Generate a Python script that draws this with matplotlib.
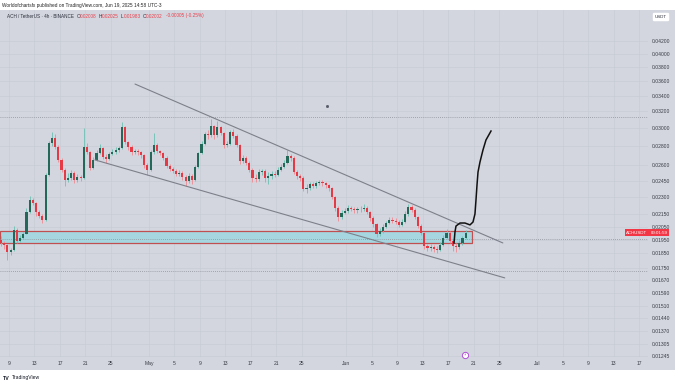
import matplotlib

matplotlib.use("Agg")

import matplotlib.pyplot as plt
import matplotlib.dates as mdates
import matplotlib.transforms as mtransforms
from matplotlib.patches import Rectangle
from matplotlib.ticker import NullLocator
from datetime import datetime

# ---- data (12h candles) ----
first_open = 0.01950
closes = [
    .01926, .01911, .01861, .01875, .02025, .01941, .01964, .01995, .02171, .02274,
    .02247, .02171, .02138, .02105, .02504, .02833, .02888, .02790, .02653, .02553,
    .02456, .02475, .02524, .02456, .02485, .02475, .02790, .02737, .02573, .02653,
    .02726, .02779, .02684, .02663, .02716, .02737, .02758, .02779, .03014, .02844,
    .02790, .02737, .02745, .02737, .02705, .02603, .02553, .02737, .02811, .02747,
    .02726, .02674, .02593, .02563, .02543, .02514, .02524, .02485, .02447, .02495,
    .02456, .02583, .02726, .02822, .02933, .02922, .03025, .02922, .03014, .02945,
    .02811, .02822, .02956, .02911, .02811, .02643, .02674, .02623, .02553, .02475,
    .02470, .02533, .02540, .02475, .02495, .02514, .02504, .02553, .02583, .02623,
    .02695, .02674, .02533, .02495, .02475, .02372, .02381, .02418, .02400, .02428,
    .02437, .02428, .02409, .02381, .02300, .02205, .02130, .02163, .02180, .02205,
    .02196, .02188, .02192, .02196, .02205, .02171, .02121, .02073, .01995, .02017,
    .02049, .02081, .02105, .02100, .02089, .02065, .02089, .02154, .02213, .02188,
    .02130, .02057, .02002, .01904, .01889, .01897, .01882, .01876, .01911, .01964,
    .02002, .01941, .01904, .01898, .01926, .01964, .02002,
]
highs = [
    .01975, .01940, .01920, .01890, .02060, .02040, .01985, .02010, .02200, .02310,
    .02295, .02260, .02190, .02150, .02520, .02860, .02960, .02930, .02810, .02670,
    .02570, .02520, .02550, .02540, .02510, .02500, .03000, .02830, .02750, .02680,
    .02760, .02820, .02790, .02720, .02740, .02770, .02790, .02800, .03070, .03030,
    .02860, .02810, .02770, .02770, .02750, .02720, .02620, .02760, .02950, .02830,
    .02760, .02740, .02690, .02610, .02580, .02560, .02550, .02540, .02500, .02520,
    .02510, .02600, .02740, .02850, .02960, .02980, .03110, .03040, .03080, .03030,
    .02960, .02850, .02980, .02990, .02930, .02820, .02700, .02690, .02640, .02570,
    .02510, .02560, .02560, .02560, .02530, .02540, .02540, .02580, .02610, .02650,
    .02760, .02720, .02690, .02550, .02510, .02490, .02420, .02440, .02440, .02450,
    .02460, .02455, .02440, .02420, .02390, .02310, .02220, .02190, .02200, .02230,
    .02225, .02215, .02215, .02220, .02235, .02220, .02180, .02135, .02080, .02040,
    .02070, .02100, .02130, .02130, .02120, .02105, .02110, .02175, .02240, .02230,
    .02200, .02140, .02070, .02010, .01920, .01915, .01910, .01900, .01930, .01985,
    .02035, .02015, .01955, .01925, .01945, .01980, .02025,
]
lows = [
    .01905, .01880, .01804, .01840, .01870, .01925, .01930, .01955, .01990, .02160,
    .02230, .02140, .02120, .02080, .02100, .02495, .02800, .02770, .02630, .02530,
    .02400, .02440, .02460, .02430, .02440, .02445, .02465, .02710, .02550, .02560,
    .02640, .02710, .02660, .02620, .02650, .02700, .02720, .02740, .02770, .02820,
    .02760, .02700, .02710, .02700, .02670, .02570, .02500, .02540, .02720, .02730,
    .02700, .02650, .02570, .02540, .02520, .02490, .02490, .02460, .02400, .02430,
    .02420, .02450, .02575, .02710, .02810, .02880, .02900, .02880, .02900, .02920,
    .02780, .02790, .02810, .02890, .02790, .02610, .02620, .02600, .02530, .02440,
    .02440, .02450, .02500, .02440, .02420, .02470, .02480, .02490, .02540, .02570,
    .02610, .02640, .02510, .02470, .02450, .02350, .02340, .02365, .02380, .02385,
    .02410, .02400, .02385, .02355, .02280, .02180, .02100, .02115, .02150, .02165,
    .02175, .02165, .02165, .02170, .02180, .02150, .02100, .02050, .01970, .01980,
    .02005, .02040, .02070, .02080, .02070, .02045, .02055, .02080, .02140, .02170,
    .02110, .02040, .01985, .01880, .01865, .01870, .01860, .01850, .01865, .01900,
    .01955, .01925, .01865, .01860, .01880, .01910, .01955,
]
first_day = -1.25      # days after Apr 9 of the first candle
candle_step = 0.5      # 12h

# drawings (days after Apr 9, price)
upper_line = [(19.8, 0.03557), (77.6, 0.01926)]
lower_line = [(13.5, 0.02654), (77.9, 0.01683)]
zone_low, zone_high, zone_end = 0.01926, 0.02017, 72.75
path_days = [69.93, 70.08, 70.24, 70.87, 71.65, 72.44, 72.91, 73.22, 73.38, 73.54,
             73.70, 74.01, 74.48, 74.95, 75.74]
path_prices = [0.01926, 0.02010, 0.02056, 0.02080, 0.02080, 0.02065, 0.02088, 0.02154,
               0.02273, 0.02409, 0.02533, 0.02633, 0.02758, 0.02866, 0.02967]
dotted_levels = [0.03132, 0.01956, 0.01729]
last_price = 0.02002

price_ticks = [0.04200, 0.04000, 0.03800, 0.03600, 0.03400, 0.03200, 0.03000, 0.02800,
               0.02600, 0.02450, 0.02300, 0.02150, 0.02050, 0.01950, 0.01850, 0.01750,
               0.01670, 0.01590, 0.01510, 0.01440, 0.01370, 0.01305, 0.01245]
date_ticks = [(4, 9), (4, 13), (4, 17), (4, 21), (4, 25), (5, 1), (5, 5), (5, 9), (5, 13),
              (5, 17), (5, 21), (5, 25), (6, 1), (6, 5), (6, 9), (6, 13), (6, 17), (6, 21),
              (6, 25), (7, 1), (7, 5), (7, 9), (7, 13), (7, 17)]
month_names = {5: "May", 6: "Jun", 7: "Jul"}

# ---- style ----
BG = "#d3d6de"
GRID = "#c8ccd5"
UP, UP_W = "#22695a", "#6cc1b2"
DN, DN_W = "#e53945", "#f08a93"
FONT = "Liberation Sans"

W, H = 679, 385
fig = plt.figure(figsize=(W / 100, H / 100), dpi=100)
fig.patch.set_facecolor("white")


def fx(px):
    return px / W


def fy(py):
    return 1 - py / H


fig.patches.append(Rectangle((0, fy(370)), fx(675), fy(10) - fy(370),
                             transform=fig.transFigure, facecolor=BG,
                             edgecolor="none", zorder=-5))

ax = fig.add_axes([0, fy(357), fx(648), fy(10) - fy(357)])
ax.set_zorder(1)
ax.set_facecolor(BG)
for s in ax.spines.values():
    s.set_visible(False)

base = mdates.date2num(datetime(2025, 4, 9))


def dnum(d):
    return base + d


ax.set_yscale("log")
ax.set_ylim(0.01240, 0.04734)
ax.set_xlim(dnum(-1.414), dnum(100.41))

# candles
opens = [first_open] + closes[:-1]
for i, (o, h, l, c) in enumerate(zip(opens, highs, lows, closes)):
    x = dnum(first_day + candle_step * i)
    up = c >= o
    ax.vlines(x, l, h, color=UP_W if up else DN_W, lw=0.6, zorder=3)
    lo, hi = min(o, c), max(o, c)
    if hi - lo < 0.00004:
        hi = lo + 0.00004
    ax.bar(x, hi - lo, bottom=lo, width=0.34, color=UP if up else DN,
           linewidth=0, zorder=4)

# zone
ax.add_patch(Rectangle((dnum(-1.414), zone_low), dnum(zone_end) - dnum(-1.414),
                       zone_high - zone_low, facecolor="#a6d7e0",
                       edgecolor="#bf4f50", lw=0.9, zorder=2))

# dotted levels
for lv in dotted_levels:
    ax.axhline(lv, color="#8f929b", lw=0.6, ls=(0, (1, 1.5)), zorder=2.5)

# trend lines
for ln in (upper_line, lower_line):
    ax.plot([dnum(p[0]) for p in ln], [p[1] for p in ln], color="#7d808a",
            lw=0.8, zorder=5, solid_capstyle="round")

# hand-drawn projection
ax.plot([dnum(d) for d in path_days], path_prices, color="#111111", lw=1.1,
        zorder=6, solid_joinstyle="round")

# small dot
ax.plot([dnum(49.97)], [0.03268], "s", ms=1.0, color="#555a66", zorder=5)

# axes ticks
ax.yaxis.tick_right()
ax.yaxis.set_minor_locator(NullLocator())
ax.set_yticks(price_ticks)
ax.set_yticklabels(["%.5f" % p for p in price_ticks], fontfamily=FONT)
ax.tick_params(axis="y", length=0, pad=3, labelsize=3.6, labelcolor="#3a3d45")

xt = [mdates.date2num(datetime(2025, m, d)) for m, d in date_ticks]
xl = [month_names[m] if d == 1 else str(d) for m, d in date_ticks]
ax.set_xticks(xt)
ax.set_xticklabels(xl, fontfamily=FONT)
ax.tick_params(axis="x", length=0, pad=3.2, labelsize=3.6, labelcolor="#3a3d45")
ax.grid(True, color=GRID, lw=0.5)
ax.set_axisbelow(True)

# price labels on the right edge
ty = mtransforms.blended_transform_factory(ax.transAxes, ax.transData)
ax.text(0.999, last_price, "ACHUSDT", transform=ty, ha="right", va="center",
        fontsize=3.2, color="white", fontfamily=FONT, clip_on=False, zorder=10,
        bbox=dict(boxstyle="square,pad=0.35", fc="#f23645", ec="none"))
ax.text(1.004, last_price, "00:01:59", transform=ty, ha="left", va="center",
        fontsize=3.2, color="white", fontfamily=FONT, clip_on=False, zorder=10,
        bbox=dict(boxstyle="square,pad=0.35", fc="#f23645", ec="none"))

# event icon
tb = mtransforms.blended_transform_factory(ax.transData, fig.transFigure)
ax.plot([dnum(71.65)], [fy(355)], "o", ms=4.5, mfc="white", mec="#b04fd6",
        mew=0.7, transform=tb, clip_on=False, zorder=10)
ax.text(dnum(71.65), fy(355), "⚡", transform=tb, ha="center", va="center",
        fontsize=2.6, color="#b04fd6", clip_on=False, zorder=11)

# header texts
fig.text(fx(2), fy(5), "Worldofchartsfx published on TradingView.com, Jun 19, 2025 14:58 UTC-3",
         fontsize=3.4, color="#222222", va="center", fontfamily=FONT)
fig.text(fx(7), fy(16), "ACH / TetherUS · 4h · BINANCE", fontsize=3.3,
         color="#2a2e39", va="center", fontfamily=FONT)
red = "#e8404e"
for lbl, val, px in [("O", "0.02008", 77), ("H", "0.02025", 99),
                     ("L", "0.01983", 121), ("C", "0.02002", 143)]:
    fig.text(fx(px), fy(16), lbl, fontsize=3.4, color="#2a2e39", va="center",
             fontfamily=FONT)
    fig.text(fx(px + 3), fy(16), val, fontsize=3.4, color=red, va="center",
             fontfamily=FONT)
fig.text(fx(166), fy(16), "-0.00005 (-0.25%)", fontsize=3.4, color=red,
         va="center", fontfamily=FONT)

# currency box
fig.text(fx(661), fy(17), "USDT", fontsize=3.2, color="#2a2e39", ha="center",
         va="center", fontfamily=FONT,
         bbox=dict(boxstyle="round,pad=0.5,rounding_size=0.3", fc="white", ec="none"))

# footer logo
fig.text(fx(3), fy(378), "TV", fontsize=3.8, color="#131722", va="center",
         fontweight="bold", fontfamily=FONT)
fig.text(fx(12), fy(378), "TradingView", fontsize=3.6, color="#131722",
         va="center", fontfamily=FONT)

fig.savefig("out.png", dpi=100)
plt.close(fig)
